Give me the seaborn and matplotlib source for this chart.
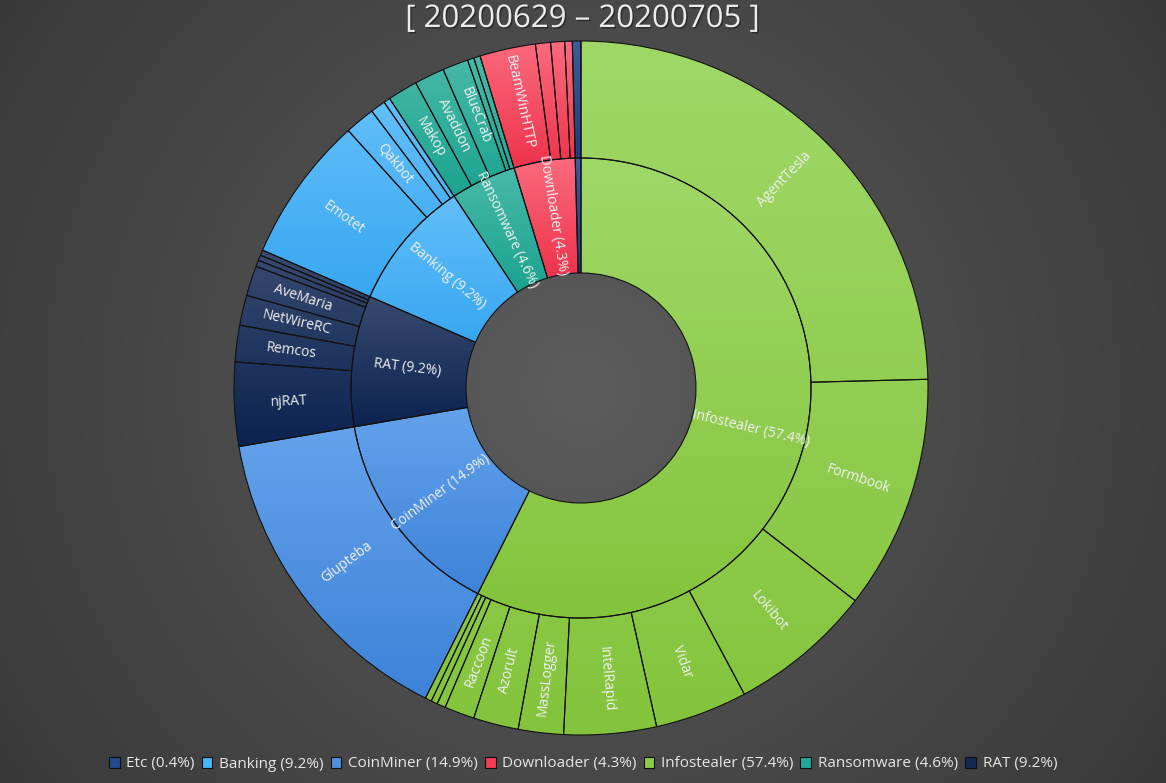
import numpy as np
import matplotlib
matplotlib.use("Agg")
import matplotlib.pyplot as plt
from matplotlib.patches import Wedge, Patch
import matplotlib.colors as mcolors
import matplotlib.patheffects as pe
import seaborn as sns

# ---------------- data ----------------
categories = ["Infostealer", "CoinMiner", "RAT", "Banking", "Ransomware", "Downloader", "Etc"]

infostealer_names = ["AgentTesla", "Formbook", "Lokibot", "Vidar", "IntelRapid", "MassLogger",
                     "Azorult", "Raccoon", "", "", ""]
infostealer_values = [24.6, 10.9, 6.7, 4.3, 4.3, 2.1, 2.1, 1.4, 0.4, 0.3, 0.3]

coinminer_names = ["Glupteba"]
coinminer_values = [14.9]

rat_names = ["njRAT", "Remcos", "NetWireRC", "AveMaria", "", "", ""]
rat_values = [3.9, 1.7, 1.4, 1.4, 0.3, 0.25, 0.25]

banking_names = ["Emotet", "Qakbot", "", ""]
banking_values = [6.8, 1.4, 0.7, 0.3]

ransomware_names = ["Makop", "Avaddon", "BlueCrab", "", ""]
ransomware_values = [1.4, 1.4, 1.2, 0.3, 0.3]

downloader_names = ["BeamWinHTTP", "", "", ""]
downloader_values = [2.6, 0.7, 0.65, 0.35]

etc_names = [""]
etc_values = [0.4]

legend_order = ["Etc", "Banking", "CoinMiner", "Downloader", "Infostealer", "Ransomware", "RAT"]

title_text = "[ 20200629 \u2013 20200705 ]"

families = {
    "Infostealer": (infostealer_names, infostealer_values),
    "CoinMiner": (coinminer_names, coinminer_values),
    "RAT": (rat_names, rat_values),
    "Banking": (banking_names, banking_values),
    "Ransomware": (ransomware_names, ransomware_values),
    "Downloader": (downloader_names, downloader_values),
    "Etc": (etc_names, etc_values),
}

# ---------------- style ----------------
sns.set_theme(style="dark")
plt.rcParams['font.family'] = ['Open Sans', 'DejaVu Sans']

# (top colour, bottom colour) of each category's gradient
grad_colors = {
    "Infostealer": ("#a0d868", "#84c43c"),
    "CoinMiner": ("#64a2eb", "#3d83d8"),
    "RAT": ("#384a70", "#0b2350"),
    "Banking": ("#62bffa", "#38a7f0"),
    "Ransomware": ("#48b9a8", "#1ca390"),
    "Downloader": ("#fb6a7d", "#ef334c"),
    "Etc": ("#3d5c9c", "#1e3d7e"),
}
legend_palette = sns.color_palette(["#234a8c", "#44b5f8", "#4d90e0", "#f03c55",
                                    "#8dc942", "#22a898", "#142a55"])

W, H = 1166, 783
fig = plt.figure(figsize=(W / 100, H / 100), dpi=100)
ax = fig.add_axes([0, 0, 1, 1])
ax.set_xlim(0, W)
ax.set_ylim(0, H)
ax.set_axis_off()

cx, cy = 581, H - 388
r_hole, r_mid, r_out = 115, 230, 347

# background radial gradient
yy, xx = np.mgrid[0:H, 0:W]
dist = np.sqrt((xx - cx) ** 2 + (yy - cy) ** 2)
t = np.clip(dist / 720.0, 0, 1)
g = (0x5c - (0x5c - 0x38) * t) / 255.0
bg = np.dstack([g, g, g])
ax.imshow(bg, extent=(0, W, 0, H), origin='lower', aspect='auto', zorder=0)


def make_wedge(r_in, r_o, th_a, th_b, **kw):
    return Wedge((cx, cy), r_o, 90 - th_b, 90 - th_a, width=r_o - r_in, **kw)


def draw_sector(r_in, r_o, th_a, th_b, cols, ext):
    w = make_wedge(r_in, r_o, th_a, th_b, facecolor='none',
                   edgecolor='#121212', linewidth=0.8, zorder=3)
    ax.add_patch(w)
    top = np.array(mcolors.to_rgb(cols[0]))
    bot = np.array(mcolors.to_rgb(cols[1]))
    n = 64
    s = np.linspace(0, 1, n)[:, None]
    img = (top[None, :] * (1 - s) + bot[None, :] * s)[:, None, :]
    im = ax.imshow(img, extent=(ext.x0, ext.x1, ext.y0, ext.y1), origin='upper',
                   aspect='auto', interpolation='bilinear', zorder=2)
    im.set_clip_path(w)


def add_label(r, th_mid, text):
    phi = 90 - th_mid
    rad = np.deg2rad(phi)
    x, y = cx + r * np.cos(rad), cy + r * np.sin(rad)
    rot = phi + 180 if th_mid > 180 else phi
    ax.text(x, y, text, rotation=rot, rotation_mode='anchor', ha='center', va='center',
            fontsize=10, color='#f0f0f0', zorder=5)


cat_totals = {c: sum(families[c][1]) for c in categories}
grand = sum(cat_totals.values())

theta = 0.0
for c in categories:
    names, vals = families[c]
    span = 360.0 * cat_totals[c] / grand
    ext_in = make_wedge(r_hole, r_mid, theta, theta + span).get_path().get_extents()
    ext_out = make_wedge(r_mid, r_out, theta, theta + span).get_path().get_extents()
    draw_sector(r_hole, r_mid, theta, theta + span, grad_colors[c], ext_in)
    pct = 100.0 * cat_totals[c] / grand
    if pct >= 1.0:
        add_label(175, theta + span / 2, f"{c} ({pct:.1f}%)")
    th = theta
    for nm, v in zip(names, vals):
        sp = 360.0 * v / grand
        draw_sector(r_mid, r_out, th, th + sp, grad_colors[c], ext_out)
        if nm and v >= 1.0:
            add_label(292, th + sp / 2, nm)
        th += sp
    theta += span

# title
fig.text(0.5, 1 - 19 / H, title_text, ha='center', va='center', fontsize=22.5,
         color='#ececec',
         path_effects=[pe.withSimplePatchShadow(offset=(1, -1), shadow_rgbFace='#1a1a1a', alpha=0.6)])

# legend
handles = []
labels = []
for i, c in enumerate(legend_order):
    handles.append(Patch(facecolor=legend_palette[i], edgecolor='#101010', linewidth=0.8))
    labels.append(f"{c} ({100.0 * cat_totals[c] / grand:.1f}%)")
fig.legend(handles, labels, loc='center', bbox_to_anchor=(0.5, 1 - 764 / H), ncol=7,
           frameon=False, fontsize=11, labelcolor='#e6e6e6', handlelength=0.7,
           handleheight=0.7, handletextpad=0.45, columnspacing=0.45)

fig.savefig("out.png", dpi=100, facecolor='#444444')
